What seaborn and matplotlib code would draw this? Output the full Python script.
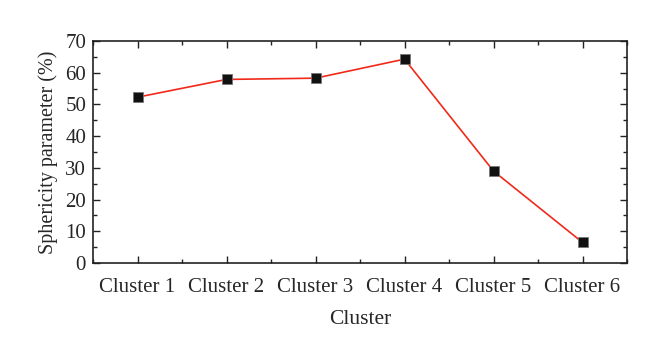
import matplotlib
matplotlib.use("Agg")
import matplotlib.pyplot as plt
import seaborn as sns
import pandas as pd
from matplotlib.ticker import MultipleLocator, FixedLocator

clusters = ["Cluster 1", "Cluster 2", "Cluster 3", "Cluster 4", "Cluster 5", "Cluster 6"]
sphericity = [52.3, 57.9, 58.3, 64.3, 29.0, 6.5]

df = pd.DataFrame({"cluster": clusters, "sphericity": sphericity})

sns.set_style("ticks")
plt.rcParams["font.family"] = ["Liberation Serif", "DejaVu Serif"]
plt.rcParams["font.size"] = 15

fig, ax = plt.subplots(figsize=(6.6, 3.54), dpi=100)
fig.subplots_adjust(left=0.141, right=0.95, top=0.884, bottom=0.257)

sns.lineplot(data=df, x="cluster", y="sphericity", sort=False, color="#f0291a",
             linewidth=1.2, ax=ax)
sns.scatterplot(data=df, x="cluster", y="sphericity", marker="s", s=45,
                color="#111111", edgecolor="#777777", linewidth=0.6, zorder=3, ax=ax)

ax.set_xlim(-0.5, len(clusters) - 0.5)
ax.set_ylim(0, 70)
ax.yaxis.set_major_locator(MultipleLocator(10))
ax.yaxis.set_minor_locator(MultipleLocator(5))
ax.xaxis.set_minor_locator(FixedLocator([i + 0.5 for i in range(-1, len(clusters))]))

ax.tick_params(which="both", direction="in", top=True, right=True, color="#222222")
ax.tick_params(which="major", length=5, width=1, labelsize=15, pad=5)
ax.tick_params(which="minor", length=3, width=1)
ax.tick_params(axis="x", which="major", pad=11)
for s in ax.spines.values():
    s.set_linewidth(1.2)
    s.set_color("#222222")

ax.set_xlabel("Cluster", fontsize=15.5, labelpad=9)
ax.set_ylabel("Sphericity parameter (%)", fontsize=14.5, labelpad=5)

fig.savefig("out.png", dpi=100)
plt.close(fig)
